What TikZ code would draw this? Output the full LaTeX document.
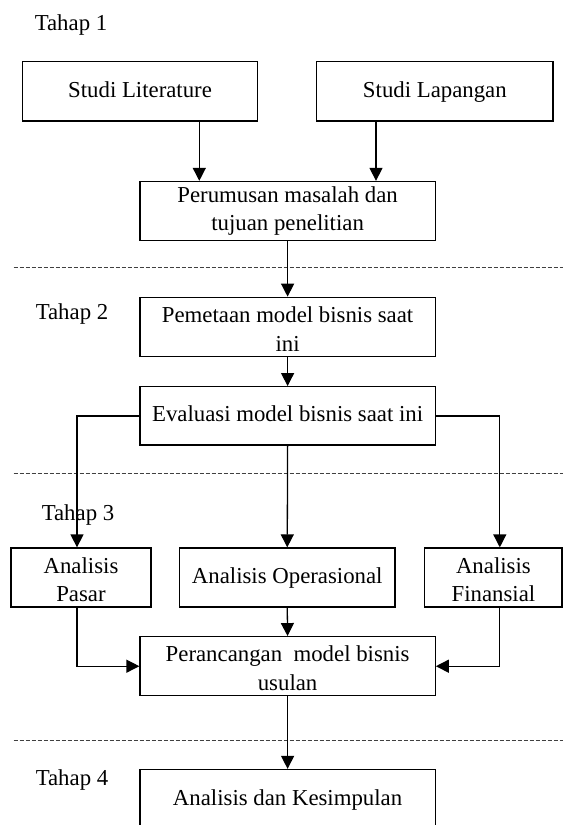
\documentclass[tikz,border=0pt]{standalone}
\usepackage{fontspec}
\setmainfont{Liberation Serif}
\usetikzlibrary{arrows.meta}
\begin{document}
\begin{tikzpicture}[x=0.5pt,y=-0.5pt,
  every node/.style={font=\fontsize{11.4}{14.2}\selectfont},
  box/.style={draw=black, line width=0.65pt, rectangle, inner sep=0pt, align=center, minimum height=29.5pt},
  arr/.style={line width=0.65pt, -{Triangle[length=6.5pt,width=6.5pt]}},
  sep/.style={draw=black!75, line width=0.4pt, dash pattern=on 2pt off 1pt},
  lbl/.style={inner sep=0pt}]
\clip (0,0) rectangle (563,825);
\fill[white] (0,0) rectangle (563,825);

% stage labels
\node[lbl] (t1) at (71,25) {\strut Tahap 1};
\node[lbl] (t2) at (72,314) {\strut Tahap 2};
\node[lbl] (t3) at (78,515) {\strut Tahap 3};
\node[lbl] (t4) at (72,780) {\strut Tahap 4};

% boxes
\node[box, minimum width=117.75pt, minimum height=29.65pt] (lit) at (140.05,91.35) {\strut Studi Literature};
\node[box, minimum width=118.15pt, minimum height=29.65pt] (lap) at (434.85,91.35) {\strut Studi Lapangan};
\node[box, minimum width=147.6pt] (per) at (287.6,211) {\strut Perumusan masalah dan\\\strut tujuan penelitian};
\node[box, minimum width=147.6pt, minimum height=29.7pt] (pem) at (287.6,327) {\strut Pemetaan model bisnis saat\\ini};
\node[box, minimum width=147.6pt, minimum height=29.15pt] (eva) at (287.6,415.85) {\strut Evaluasi model bisnis saat ini};
\node[box, minimum width=70pt] (pas) at (81,577.5) {\strut Analisis\\Pasar};
\node[box, minimum width=107.75pt] (ops) at (287.25,577.5) {\strut Analisis Operasional};
\node[box, minimum width=68.6pt] (fin) at (493.4,577.5) {\strut Analisis\\Finansial};
\node[box, minimum width=147.6pt] (ran) at (287.6,666.2) {\strut Perancangan\ \ model bisnis\\usulan};
\node[box, minimum width=147.6pt, minimum height=30.5pt] (kes) at (287.6,800) {\strut Analisis dan Kesimpulan};

% helper coordinates
\coordinate (xa) at (199.3,0);
\coordinate (xb) at (376,0);
\coordinate (xl) at (77,0);
\coordinate (xr) at (499.8,0);
\coordinate (d1a) at (13.6,267);
\coordinate (d1b) at (563,267);
\coordinate (d2a) at (13.6,473.3);
\coordinate (d2b) at (563,473.3);
\coordinate (d3a) at (13.6,740);
\coordinate (d3b) at (563,740);

% separators
\draw[sep] (d1a) -- (d1b);
\draw[sep] (d2a) -- (d2b);
\draw[sep] (d3a) -- (d3b);

% connectors
\draw[arr] (lit.south -| xa) -- (per.north -| xa);
\draw[arr] (lap.south -| xb) -- (per.north -| xb);
\draw[arr] (per.south) -- (pem.north);
\draw[arr] (pem.south) -- (eva.north);
\draw[arr] (eva.west) -| (pas.north -| xl);
\draw[arr] (eva.south) -- (ops.north);
\draw[arr] (eva.east) -| (fin.north -| xr);
\draw[arr] (pas.south -| xl) |- (ran.west);
\draw[arr] (ops.south) -- (ran.north);
\draw[arr] (fin.south -| xr) |- (ran.east);
\draw[arr] (ran.south) -- (kes.north);
\end{tikzpicture}
\end{document}
